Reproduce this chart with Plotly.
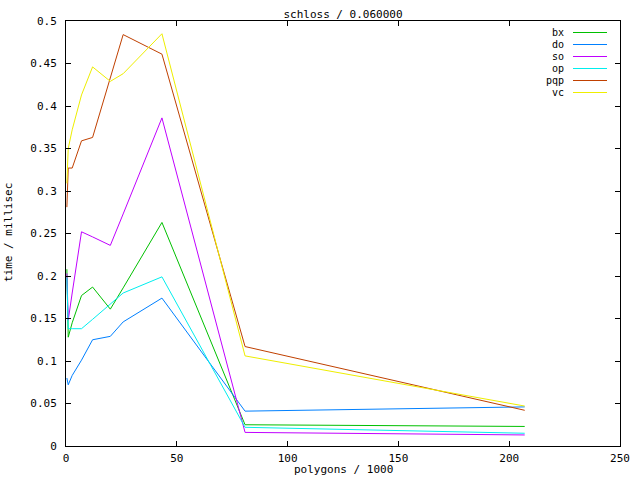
import plotly.graph_objects as go

polygons = [0.4, 1.0, 2.8, 7.0, 12.0, 20.0, 25.8, 43.3, 80.8, 207.0]
bx = [0.208, 0.128, 0.145, 0.177, 0.187, 0.161, 0.186, 0.263, 0.025, 0.023]
do = [0.080, 0.072, 0.083, 0.101, 0.125, 0.129, 0.146, 0.174, 0.041, 0.046]
so = [0.203, 0.148, 0.180, 0.252, 0.246, 0.236, 0.273, 0.386, 0.016, 0.013]
op = [0.198, 0.138, 0.138, 0.138, 0.149, 0.167, 0.180, 0.199, 0.022, 0.015]
pqp = [0.281, 0.327, 0.327, 0.359, 0.363, 0.434, 0.484, 0.461, 0.117, 0.042]
vc = [0.309, 0.350, 0.372, 0.413, 0.446, 0.429, 0.438, 0.485, 0.106, 0.047]

series_names = ["bx", "do", "so", "op", "pqp", "vc"]
series_vals = [bx, do, so, op, pqp, vc]
colors = ["#00c000", "#0080ff", "#c000ff", "#00eeee", "#c04000", "#eeee00"]

x_ticks = [0, 50, 100, 150, 200, 250]
y_ticks = [0, 0.05, 0.1, 0.15, 0.2, 0.25, 0.3, 0.35, 0.4, 0.45, 0.5]
y_tick_labels = ["0", "0.05", "0.1", "0.15", "0.2", "0.25", "0.3", "0.35", "0.4", "0.45", "0.5"]

FONT = dict(family="DejaVu Sans Mono", size=11, color="black")
LFONT = dict(family="DejaVu Sans Mono", size=10, color="black")

fig = go.Figure()
for name, vals, col in zip(series_names, series_vals, colors):
    fig.add_trace(go.Scatter(x=polygons, y=vals, mode="lines", name=name,
                             line=dict(color=col, width=1), showlegend=False))

# plot area in pixels
L, R, T, B = 66, 620, 21, 446
W, H = 640, 480
def px(xp):
    return (xp - L) / (R - L)
def py(yp):
    return (B - yp) / (B - T)

annotations = []
shapes = []
rows = [32.5, 44.5, 56.5, 68.5, 80.5, 92.5]
for name, col, yr in zip(series_names, colors, rows):
    annotations.append(dict(x=px(566), y=py(yr), xref="paper", yref="paper",
                            text=name, showarrow=False, xanchor="right", yanchor="middle",
                            font=LFONT))
    shapes.append(dict(type="line", xref="paper", yref="paper",
                       x0=px(573), x1=px(607), y0=py(yr), y1=py(yr),
                       line=dict(color=col, width=1)))

# axis titles
annotations.append(dict(x=px(343), y=py(469), xref="paper", yref="paper",
                        text="polygons / 1000", showarrow=False, xanchor="center",
                        yanchor="middle", font=FONT))
annotations.append(dict(x=px(9), y=py(233), xref="paper", yref="paper",
                        text="time / millisec", showarrow=False, xanchor="center",
                        yanchor="middle", textangle=-90, font=FONT))

fig.update_layout(
    width=W, height=H,
    margin=dict(l=L, r=W - R, t=T, b=H - B, autoexpand=False),
    paper_bgcolor="white", plot_bgcolor="white",
    font=FONT,
    title=dict(text="schloss / 0.060000", x=(L + R) / 2 / W, xanchor="center",
               y=1 - 14 / H, yanchor="middle", font=FONT),
    annotations=annotations,
    shapes=shapes,
)
fig.update_xaxes(range=[0, 250], tickvals=x_ticks, ticks="inside", ticklen=5,
                 tickcolor="black", showline=True, linecolor="black", linewidth=1,
                 mirror="ticks", showgrid=False, zeroline=False, automargin=False,
                 ticklabelstandoff=2, tickfont=FONT)
fig.update_yaxes(range=[0, 0.5], tickvals=y_ticks, ticktext=y_tick_labels,
                 ticks="inside", ticklen=5, tickcolor="black", showline=True,
                 linecolor="black", linewidth=1, mirror="ticks", showgrid=False,
                 zeroline=False, ticklabelstandoff=6, automargin=False,
                 tickfont=FONT)

fig.write_html("out.html", config={"displayModeBar": False},
               post_script="document.body.style.margin='0';document.body.style.overflow='hidden';")
